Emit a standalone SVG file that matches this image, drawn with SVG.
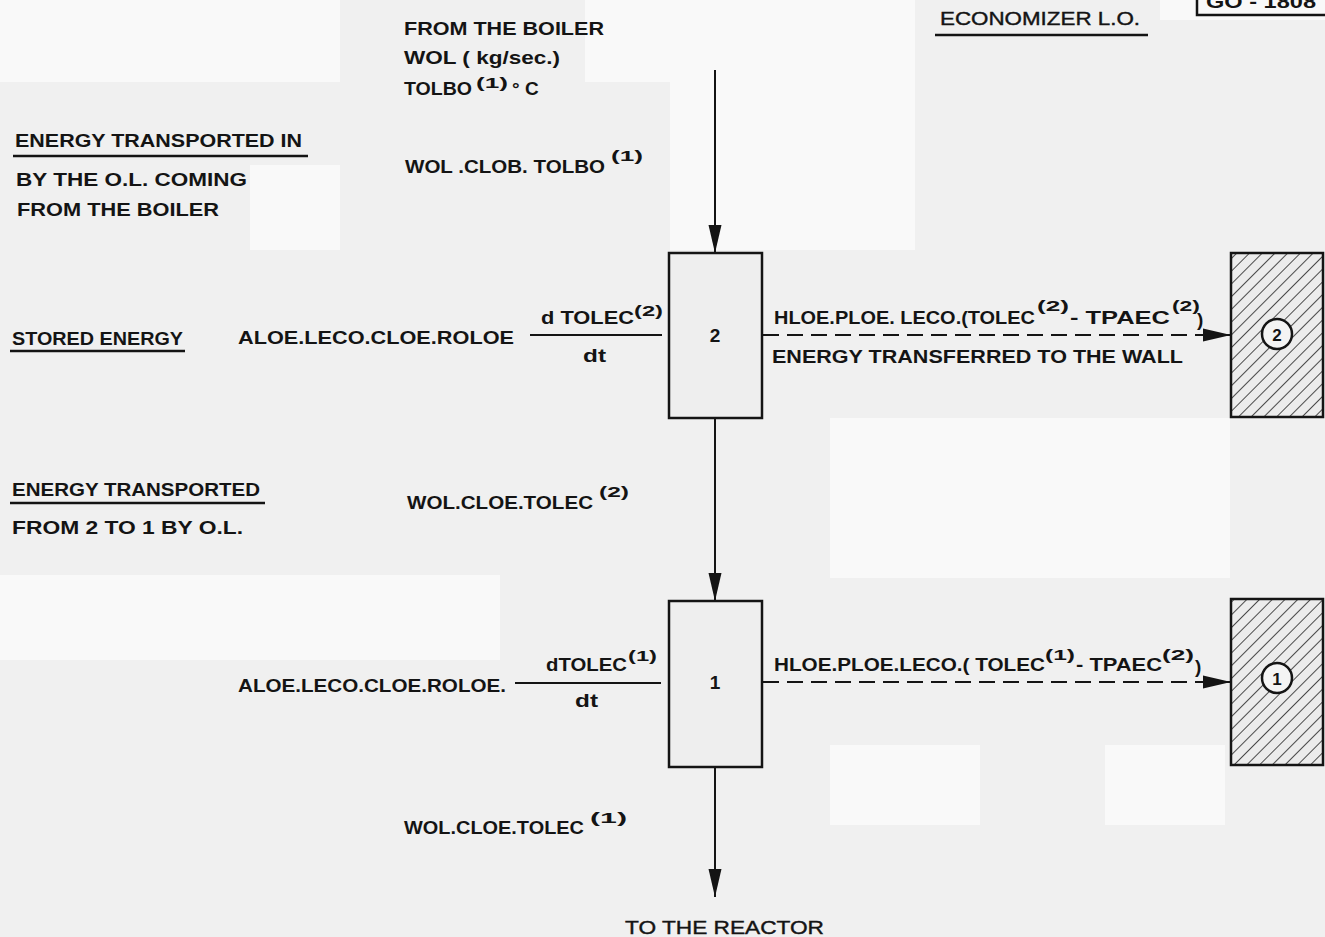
<svg xmlns="http://www.w3.org/2000/svg" width="1325" height="937" viewBox="0 0 1325 937">
<style>
text{font-family:"Liberation Sans",Arial,sans-serif;font-size:19px;font-weight:bold;fill:#141414}
.sup{font-size:15px}
.ln{stroke:#141414;stroke-width:2;fill:none}
.box{stroke:#141414;stroke-width:2.5;fill:#eeeeee}
.dash{stroke:#141414;stroke-width:2;fill:none;stroke-dasharray:16 8}
.ul{stroke:#141414;stroke-width:2.5}
</style>
<defs>
<pattern id="hatch" width="9" height="9" patternUnits="userSpaceOnUse" patternTransform="rotate(45)">
<rect width="9" height="9" fill="#ececec"/>
<line x1="0" y1="0" x2="0" y2="9" stroke="#222" stroke-width="1.6"/>
</pattern>
<marker id="ah" markerWidth="28" markerHeight="16" refX="28" refY="8" orient="auto" markerUnits="userSpaceOnUse">
<path d="M0,1.5 L28,8 L0,14.5 Z" fill="#141414"/>
</marker>
</defs>
<rect width="1325" height="937" fill="#f0f0f0"/>
<g id="bg" fill="#f9f9f9">
<rect x="0" y="0" width="340" height="82"/>
<rect x="585" y="0" width="85" height="82"/>
<rect x="670" y="0" width="245" height="250"/>
<rect x="250" y="165" width="90" height="85"/>
<rect x="0" y="575" width="500" height="85"/>
<rect x="830" y="418" width="400" height="160"/>
<rect x="1105" y="745" width="120" height="80"/>
<rect x="830" y="745" width="150" height="80"/>
<rect x="1160" y="0" width="165" height="20"/>
</g>
<g id="title">
<text x="940" y="25" textLength="200" lengthAdjust="spacingAndGlyphs" style="font-weight:normal;stroke:#141414;stroke-width:0.4">ECONOMIZER L.O.</text>
<line class="ul" x1="935" y1="35" x2="1148" y2="35"/>
</g>
<g id="drawing-number">
<path class="ln" d="M1197,0 V15 H1325" style="stroke-width:2.5"/>
<text x="1206" y="8" textLength="110" lengthAdjust="spacingAndGlyphs">GO - 1808</text>
</g>
<g id="connectors">
<line class="ln" x1="715" y1="70" x2="715" y2="253" marker-end="url(#ah)"/>
<line class="ln" x1="715" y1="418" x2="715" y2="601" marker-end="url(#ah)"/>
<line class="ln" x1="715" y1="767" x2="715" y2="897" marker-end="url(#ah)"/>
<line class="dash" x1="763" y1="335" x2="1231" y2="335" marker-end="url(#ah)"/>
<line class="dash" x1="763" y1="682" x2="1231" y2="682" marker-end="url(#ah)"/>
</g>
<g id="node-2">
<rect class="box" x="669" y="253" width="93" height="165"/>
<text x="715" y="342" text-anchor="middle">2</text>
</g>
<g id="node-1">
<rect class="box" x="669" y="601" width="93" height="166"/>
<text x="715" y="689" text-anchor="middle">1</text>
</g>
<g id="wall-2">
<rect x="1231" y="253" width="92" height="164" fill="url(#hatch)" stroke="#141414" stroke-width="2.5"/>
<circle cx="1277" cy="334" r="15" fill="#f4f4f4" stroke="#141414" stroke-width="2.5"/>
<text x="1277" y="341" text-anchor="middle" class="sup" style="font-size:17px">2</text>
</g>
<g id="wall-1">
<rect x="1231" y="599" width="92" height="166" fill="url(#hatch)" stroke="#141414" stroke-width="2.5"/>
<circle cx="1277" cy="678" r="15" fill="#f4f4f4" stroke="#141414" stroke-width="2.5"/>
<text x="1277" y="685" text-anchor="middle" class="sup" style="font-size:17px">1</text>
</g>
<g id="inlet-labels">
<text x="404" y="35" textLength="200" lengthAdjust="spacingAndGlyphs">FROM THE BOILER</text>
<text x="404" y="64" textLength="156" lengthAdjust="spacingAndGlyphs">WOL ( kg/sec.)</text>
<text x="404" y="95" textLength="68" lengthAdjust="spacingAndGlyphs">TOLBO</text>
<text x="476" y="88" class="sup" textLength="32" lengthAdjust="spacingAndGlyphs">(1)</text>
<text x="512" y="95">° C</text>
<text x="405" y="173" textLength="200" lengthAdjust="spacingAndGlyphs">WOL .CLOB. TOLBO</text>
<text x="611" y="161" class="sup" textLength="32" lengthAdjust="spacingAndGlyphs">(1)</text>
</g>
<g id="left-labels">
<text x="15" y="147" textLength="287" lengthAdjust="spacingAndGlyphs">ENERGY TRANSPORTED IN</text>
<line class="ul" x1="13" y1="156" x2="308" y2="156"/>
<text x="16" y="186" textLength="231" lengthAdjust="spacingAndGlyphs">BY THE O.L. COMING</text>
<text x="17" y="216" textLength="202" lengthAdjust="spacingAndGlyphs">FROM THE BOILER</text>
<text x="12" y="345" textLength="171" lengthAdjust="spacingAndGlyphs">STORED ENERGY</text>
<line class="ul" x1="10" y1="351" x2="185" y2="351"/>
<text x="12" y="496" textLength="248" lengthAdjust="spacingAndGlyphs">ENERGY TRANSPORTED</text>
<line class="ul" x1="10" y1="503" x2="265" y2="503"/>
<text x="12" y="534" textLength="231" lengthAdjust="spacingAndGlyphs">FROM 2 TO 1 BY O.L.</text>
</g>
<g id="stored-2">
<text x="238" y="344" textLength="276" lengthAdjust="spacingAndGlyphs">ALOE.LECO.CLOE.ROLOE</text>
<text x="541" y="324" textLength="93" lengthAdjust="spacingAndGlyphs">d TOLEC</text>
<text x="634" y="316" class="sup" textLength="29" lengthAdjust="spacingAndGlyphs">(2)</text>
<line class="ln" x1="530" y1="335" x2="662" y2="335"/>
<text x="583" y="362" textLength="23" lengthAdjust="spacingAndGlyphs">dt</text>
</g>
<g id="transfer-2">
<text x="774" y="324" textLength="261" lengthAdjust="spacingAndGlyphs">HLOE.PLOE. LECO.(TOLEC</text>
<text x="1037" y="311" class="sup" textLength="32" lengthAdjust="spacingAndGlyphs">(2)</text>
<text x="1070" y="324" textLength="100" lengthAdjust="spacingAndGlyphs">- TPAEC</text>
<text x="1172" y="311" class="sup" textLength="28" lengthAdjust="spacingAndGlyphs">(2)</text>
<text x="1197" y="326">)</text>
<text x="772" y="363" textLength="411" lengthAdjust="spacingAndGlyphs">ENERGY TRANSFERRED TO THE WALL</text>
</g>
<g id="flow-2-1">
<text x="407" y="509" textLength="186" lengthAdjust="spacingAndGlyphs">WOL.CLOE.TOLEC</text>
<text x="599" y="497" class="sup" textLength="30" lengthAdjust="spacingAndGlyphs">(2)</text>
</g>
<g id="stored-1">
<text x="238" y="692" textLength="268" lengthAdjust="spacingAndGlyphs">ALOE.LECO.CLOE.ROLOE.</text>
<text x="546" y="671" textLength="81" lengthAdjust="spacingAndGlyphs">dTOLEC</text>
<text x="628" y="661" class="sup" textLength="29" lengthAdjust="spacingAndGlyphs">(1)</text>
<line class="ln" x1="515" y1="683" x2="661" y2="683"/>
<text x="575" y="707" textLength="23" lengthAdjust="spacingAndGlyphs">dt</text>
</g>
<g id="transfer-1">
<text x="774" y="671" textLength="271" lengthAdjust="spacingAndGlyphs">HLOE.PLOE.LECO.( TOLEC</text>
<text x="1045" y="660" class="sup" textLength="30" lengthAdjust="spacingAndGlyphs">(1)</text>
<text x="1076" y="671" textLength="86" lengthAdjust="spacingAndGlyphs">- TPAEC</text>
<text x="1162" y="660" class="sup" textLength="32" lengthAdjust="spacingAndGlyphs">(2)</text>
<text x="1195" y="673">)</text>
</g>
<g id="outlet-labels">
<text x="404" y="834" textLength="180" lengthAdjust="spacingAndGlyphs">WOL.CLOE.TOLEC</text>
<text x="590" y="823" class="sup" textLength="37" lengthAdjust="spacingAndGlyphs">(1)</text>
<text x="625" y="934" textLength="199" lengthAdjust="spacingAndGlyphs" style="font-weight:normal;stroke:#141414;stroke-width:0.4">TO THE REACTOR</text>
</g>
</svg>
